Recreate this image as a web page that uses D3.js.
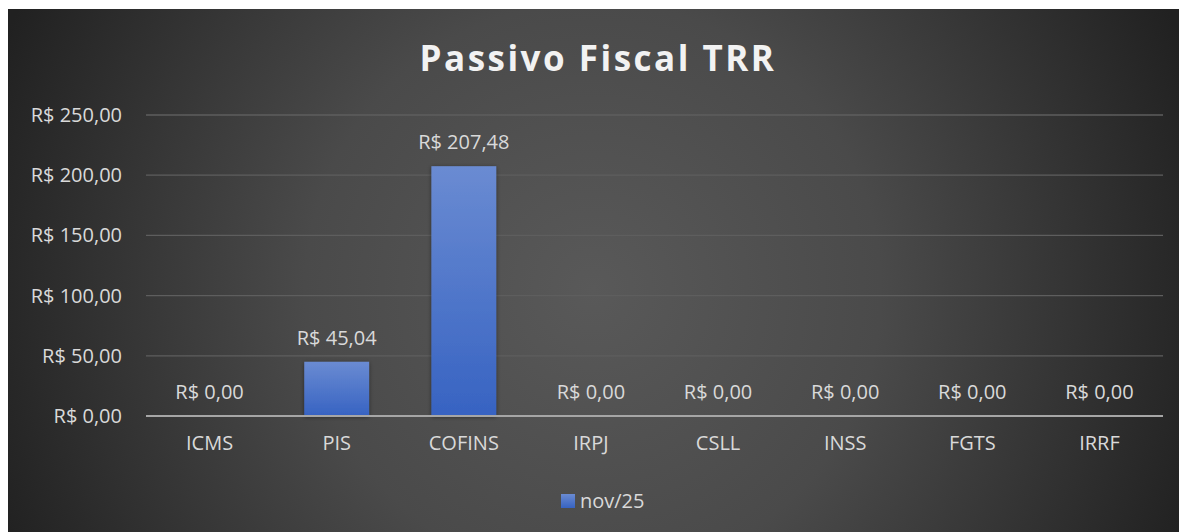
<!DOCTYPE html>
<html>
<head>
<meta charset="utf-8">
<script src="https://cdn.jsdelivr.net/npm/d3@7"></script>
<style>
  html, body { margin: 0; padding: 0; background: #fff; }
  svg { display: block; }
</style>
</head>
<body>
<div id="chart"></div>
<script>
// chart data
const categories = ['ICMS', 'PIS', 'COFINS', 'IRPJ', 'CSLL', 'INSS', 'FGTS', 'IRRF'];
const values = [0, 45.04, 207.48, 0, 0, 0, 0, 0];
const yTicks = [0, 50, 100, 150, 200, 250];
const seriesName = 'nov/25';
const title = 'Passivo Fiscal TRR';

const width = 1179, height = 532;
const margin = { top: 115, right: 16, bottom: 116, left: 146 };

const fmt = v => 'R$ ' + v.toFixed(2).replace('.', ',');

const svg = d3.select('#chart').append('svg')
    .attr('width', width)
    .attr('height', height);

const defs = svg.append('defs');

const bg = defs.append('radialGradient')
    .attr('id', 'bg')
    .attr('gradientUnits', 'userSpaceOnUse')
    .attr('cx', 593).attr('cy', 290).attr('r', 640);
bg.append('stop').attr('offset', '0%').attr('stop-color', '#595959');
bg.append('stop').attr('offset', '45%').attr('stop-color', '#4a4a4a');
bg.append('stop').attr('offset', '100%').attr('stop-color', '#212121');

const barGrad = defs.append('linearGradient')
    .attr('id', 'bar')
    .attr('x1', 0).attr('y1', 0).attr('x2', 0).attr('y2', 1);
barGrad.append('stop').attr('offset', '0%').attr('stop-color', '#6a8bd2');
barGrad.append('stop').attr('offset', '100%').attr('stop-color', '#3763c2');

const shadow = defs.append('filter').attr('id', 'shadow')
    .attr('x', '-20%').attr('y', '-20%').attr('width', '140%').attr('height', '140%');
shadow.append('feDropShadow')
    .attr('dx', 0).attr('dy', 1).attr('stdDeviation', 2)
    .attr('flood-color', '#000').attr('flood-opacity', 0.45);

// background panel
svg.append('rect')
    .attr('x', 8).attr('y', 9)
    .attr('width', width - 8).attr('height', height - 9)
    .attr('fill', 'url(#bg)');

const x = d3.scaleBand()
    .domain(categories)
    .range([margin.left, width - margin.right])
    .paddingInner(0.49)
    .paddingOuter(0.245);

const y = d3.scaleLinear()
    .domain([0, 250])
    .range([height - margin.bottom, margin.top]);

const font = 'Open Sans, Noto Sans, sans-serif';
const textColor = '#d9d9d9';
const fs = '20px';

// gridlines
svg.append('g')
    .selectAll('line')
    .data(yTicks.filter(d => d > 0))
    .enter()
    .append('line')
    .attr('x1', margin.left)
    .attr('x2', width - margin.right)
    .attr('y1', d => y(d))
    .attr('y2', d => y(d))
    .attr('stroke', '#5e5e5e')
    .attr('stroke-width', 1.3);

// y axis labels
const yAxis = svg.append('g')
    .attr('transform', `translate(${margin.left},0)`)
    .call(d3.axisLeft(y).tickValues(yTicks).tickFormat(fmt).tickSize(0).tickPadding(24));
yAxis.select('.domain').remove();
yAxis.selectAll('text')
    .attr('fill', textColor)
    .style('font-family', font)
    .style('font-size', fs);

// bars
svg.append('g')
    .selectAll('rect')
    .data(values)
    .enter()
    .append('rect')
    .attr('x', (d, i) => x(categories[i]))
    .attr('y', d => y(d))
    .attr('width', x.bandwidth())
    .attr('height', d => y(0) - y(d))
    .attr('fill', 'url(#bar)')
    .attr('filter', 'url(#shadow)');

// baseline
svg.append('line')
    .attr('x1', margin.left)
    .attr('x2', width - margin.right)
    .attr('y1', y(0))
    .attr('y2', y(0))
    .attr('stroke', '#a6a6a6')
    .attr('stroke-width', 2);

// data labels
svg.append('g')
    .selectAll('text')
    .data(values)
    .enter()
    .append('text')
    .attr('x', (d, i) => x(categories[i]) + x.bandwidth() / 2)
    .attr('y', d => y(d) - 17)
    .attr('text-anchor', 'middle')
    .attr('fill', textColor)
    .style('font-family', font)
    .style('font-size', fs)
    .text(fmt);

// x axis labels
const xAxis = svg.append('g')
    .attr('transform', `translate(0,${y(0)})`)
    .call(d3.axisBottom(x).tickSize(0).tickPadding(20));
xAxis.select('.domain').remove();
xAxis.selectAll('text')
    .attr('fill', textColor)
    .style('font-family', font)
    .style('font-size', fs);

// title
svg.append('text')
    .attr('x', 598)
    .attr('y', 71)
    .attr('text-anchor', 'middle')
    .attr('fill', '#f2f2f2')
    .style('font-family', font)
    .style('font-size', '35px')
    .style('font-weight', 'bold')
    .style('letter-spacing', '2.5px')
    .text(title);

// legend
const legend = svg.append('g').attr('transform', 'translate(561,494)');
legend.append('rect')
    .attr('width', 14).attr('height', 14)
    .attr('fill', 'url(#bar)');
legend.append('text')
    .attr('x', 19)
    .attr('y', 7)
    .attr('dy', '0.35em')
    .attr('fill', textColor)
    .style('font-family', font)
    .style('font-size', fs)
    .text(seriesName);
</script>
</body>
</html>
